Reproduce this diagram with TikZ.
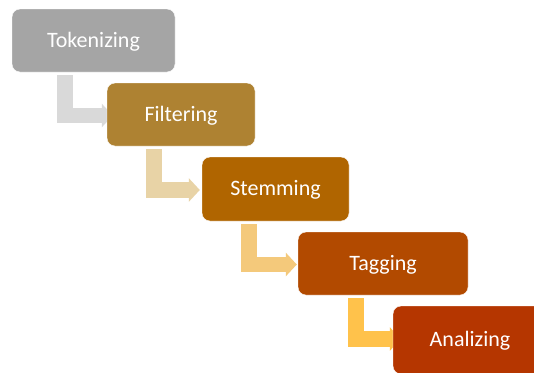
\documentclass[tikz,border=0pt]{standalone}
\usepackage{fontspec}
\setmainfont{Carlito}
\usetikzlibrary{calc,arrows.meta,backgrounds}
\definecolor{c1}{HTML}{A5A5A5}
\definecolor{c2}{HTML}{AE8232}
\definecolor{c3}{HTML}{B06500}
\definecolor{c4}{HTML}{B24A00}
\definecolor{c5}{HTML}{B53600}
\definecolor{a1}{HTML}{D9D9D9}
\definecolor{a2}{HTML}{E8D3A6}
\definecolor{a3}{HTML}{F4C97B}
\definecolor{a4}{HTML}{FFC24B}
\tikzset{
  stepbox/.style={rounded corners=8pt, text=white, inner sep=0pt,
    font=\fontsize{22}{26}\selectfont, text height=15pt, text depth=2pt,
    draw=white, line width=0.4pt},
  elbow/.style={line width=15.5pt, line join=miter,
    -{Triangle[width=23pt,length=11pt]}},
}
\begin{document}
\begin{tikzpicture}[x=1pt,y=-1pt]
\useasboundingbox (0,0) rectangle (534,372);
\node[stepbox, minimum width=163pt, minimum height=63pt, fill=c1] (t1) at (93.5,40.5) {Tokenizing};
\node[stepbox, minimum width=148pt, minimum height=63pt, fill=c2] (t2) at (181,114.5) {Filtering};
\node[stepbox, minimum width=147pt, minimum height=64pt, fill=c3] (t3) at (275.5,189) {Stemming};
\node[stepbox, minimum width=170pt, minimum height=63pt, fill=c4] (t4) at (383,263.5) {Tagging};
\node[stepbox, minimum width=154pt, minimum height=68pt, fill=c5] (t5) at (470,340) {Analizing};
\begin{scope}[on background layer]
\fill[white] (0,0) rectangle (534,372);
\draw[elbow, a1] ($(t1.south west)+(53,3)$) |- ($(t2.west)+(6,1)$);
\draw[elbow, a2] ($(t2.south west)+(47,3)$) |- ($(t3.west)+(-2,1)$);
\draw[elbow, a3] ($(t3.south west)+(47,3)$) |- ($(t4.west)+(-1,1)$);
\draw[elbow, a4] ($(t4.south west)+(58,3)$) |- ($(t5.west)+(8,-1)$);
\end{scope}
\end{tikzpicture}
\end{document}
